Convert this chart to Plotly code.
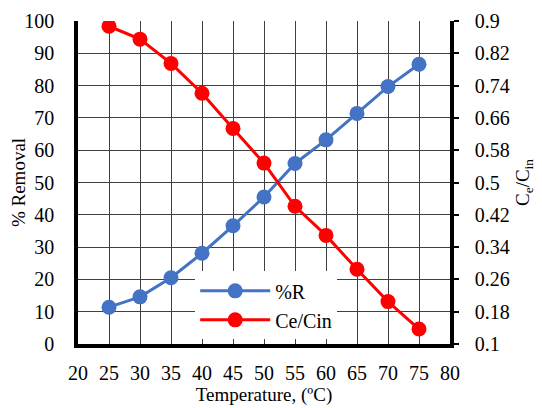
import plotly.graph_objects as go

temperature = [25, 30, 35, 40, 45, 50, 55, 60, 65, 70, 75]
removal_pct = [11.4, 14.6, 20.5, 28.1, 36.6, 45.5, 55.9, 63.2, 71.4, 79.7, 86.6]
ce_cin = [0.887, 0.855, 0.795, 0.721, 0.634, 0.548, 0.441, 0.369, 0.285, 0.205, 0.137]
x_ticks = [20, 25, 30, 35, 40, 45, 50, 55, 60, 65, 70, 75, 80]
y_ticks = [0, 10, 20, 30, 40, 50, 60, 70, 80, 90, 100]
y2_ticks = [0.1, 0.18, 0.26, 0.34, 0.42, 0.5, 0.58, 0.66, 0.74, 0.82, 0.9]
y2_labels = ["0.1", "0.18", "0.26", "0.34", "0.42", "0.5", "0.58", "0.66", "0.74", "0.82", "0.9"]

font = "Liberation Serif"
tf = dict(family=font, size=20, color="black")
fig = go.Figure()
fig.add_trace(go.Scatter(x=temperature, y=removal_pct, name="%R", mode="lines+markers",
                         line=dict(color="#4472C4", width=3),
                         marker=dict(color="#4472C4", size=15)))
fig.add_trace(go.Scatter(x=temperature, y=ce_cin, name="Ce/Cin", mode="lines+markers",
                         yaxis="y2",
                         line=dict(color="#FF0000", width=3),
                         marker=dict(color="#FF0000", size=15)))

# page body has an 8px margin, so the figure is offset by (8, 8)
fig.update_layout(
    width=534, height=400,
    margin=dict(l=70, r=92, t=13, b=64),
    paper_bgcolor="white", plot_bgcolor="white",
    font=dict(family=font, size=19, color="black"),
    xaxis=dict(range=[20, 80], tickvals=x_ticks, showgrid=True, gridcolor="#404040", gridwidth=1,
               showline=True, linecolor="black", linewidth=3.5, zeroline=False, automargin=False,
               ticks="", ticklabelstandoff=8, tickfont=tf,
               title=dict(text="Temperature, (ºC)", font=dict(family=font, size=19), standoff=5)),
    yaxis=dict(range=[0, 100], tickvals=y_ticks, showgrid=True, gridcolor="#404040", gridwidth=1,
               showline=True, linecolor="black", linewidth=3.5, zeroline=False, automargin=False,
               ticks="", ticklabelstandoff=16, tickfont=tf,
               title=dict(text="% Removal", font=dict(family=font, size=19), standoff=4)),
    yaxis2=dict(range=[0.1, 0.9], tickvals=y2_ticks, ticktext=y2_labels, overlaying="y", side="right",
                showgrid=False, showline=True, linecolor="black", linewidth=3.5, zeroline=False,
                automargin=False, tickfont=tf,
                ticks="outside", ticklen=5, tickwidth=2, tickcolor="black", ticklabelstandoff=12,
                title=dict(text="C<sub>e</sub>/C<sub>in</sub>", font=dict(family=font, size=19), standoff=8)),
    legend=dict(x=0.315, y=0.225, xanchor="left", yanchor="top", bgcolor="white",
                font=dict(family=font, size=20), borderwidth=0, itemwidth=70, tracegroupgap=0),
    showlegend=True,
)
fig.write_html("out.html")
